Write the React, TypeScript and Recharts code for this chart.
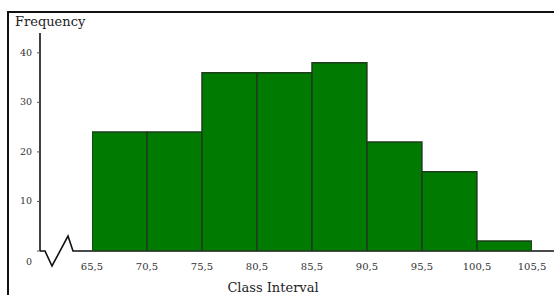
import { BarChart, Bar, XAxis, YAxis, usePlotArea } from 'recharts';

const classEdges = [65.5, 70.5, 75.5, 80.5, 85.5, 90.5, 95.5, 100.5, 105.5];
const frequencies = [24, 24, 36, 36, 38, 22, 16, 2];
const freqTicks = [0, 10, 20, 30, 40];

// one row per class interval, placed at the class midpoint
const data = frequencies.map((freq, i) => ({
  lower: classEdges[i],
  upper: classEdges[i + 1],
  mid: (classEdges[i] + classEdges[i + 1]) / 2,
  freq,
}));

const FONT = '"DejaVu Serif", "Liberation Serif", serif';

function AxisWithBreak() {
  const area = usePlotArea();
  if (!area) return null;
  const x0 = area.x;
  const y0 = area.y + area.height;
  const x1 = area.x + area.width;
  // x-axis line with a zig-zag break near the origin
  const d = `M${x0},${y0} h5 l7,15 l16,-30 l5,15 H${x1}`;
  return <path d={d} fill="none" stroke="#111" strokeWidth={1.6} />;
}

function FreqTick(props: any) {
  const { x, y, payload } = props;
  const shift = payload.value === 0 ? 11 : 0;
  return (
    <text x={x - 3} y={y + shift} dy={3} textAnchor="end" fontSize={9.5} fontFamily={FONT} fill="#333">
      {payload.value}
    </text>
  );
}

export default function App() {
  return (
    <div style={{ position: 'absolute', left: 0, top: 0, width: 554, height: 295, background: '#fff' }}>
      <div
        style={{
          position: 'absolute',
          left: 7,
          top: 11,
          width: 547,
          height: 284,
          borderTop: '2px solid #111',
          borderLeft: '2px solid #111',
        }}
      />
      <BarChart
        width={554}
        height={295}
        data={data}
        margin={{ top: 33, right: 0, bottom: 0, left: 0 }}
        barCategoryGap="0%"
        barGap={0}
        barSize={54.9}
        style={{ position: 'absolute', left: 0, top: 0 }}
      >
        <XAxis
          dataKey="mid"
          type="number"
          domain={[classEdges[0], classEdges[classEdges.length - 1]]}
          ticks={classEdges}
          interval={0}
          allowDataOverflow
          padding={{ left: 52, right: 22 }}
          axisLine={false}
          tickLine={false}
          height={44}
          tickMargin={6}
          tick={{ fontSize: 10, fontFamily: FONT, fill: '#333' }}
          tickFormatter={(v: number) => v.toFixed(1).replace('.', ',')}
        />
        <YAxis
          width={40}
          domain={[0, 44]}
          ticks={freqTicks}
          allowDataOverflow
          axisLine={{ stroke: '#111', strokeWidth: 1.6 }}
          tickLine={{ stroke: '#555' }}
          tickSize={3}
          tick={<FreqTick />}
        />
        <Bar
          dataKey="freq"
          fill="#007a00"
          stroke="#1c3d1c"
          strokeWidth={1.5}
          isAnimationActive={false}
        />
        <AxisWithBreak />
        <text x={15} y={26} fontSize={13} fontFamily={FONT} fill="#222">
          Frequency
        </text>
        <text x={273} y={292} textAnchor="middle" fontSize={13} fontFamily={FONT} fill="#222">
          Class Interval
        </text>
      </BarChart>
    </div>
  );
}
